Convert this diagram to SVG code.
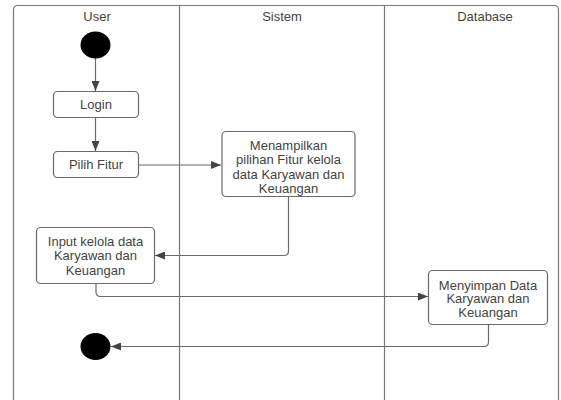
<svg xmlns="http://www.w3.org/2000/svg" width="561" height="400" viewBox="0 0 561 400">
<style>
.t{font-family:"Liberation Sans",Arial,sans-serif;font-size:13px;fill:#444;text-anchor:middle}
.box{fill:#fff;stroke:#6a6a6a;stroke-width:1.2}
.ln{fill:none;stroke:#6a6a6a;stroke-width:1.2}
.lane{fill:none;stroke:#777;stroke-width:1.2}
</style>
<defs>
<marker id="ah" viewBox="0 0 10 8" refX="10" refY="4" markerWidth="10" markerHeight="8" markerUnits="userSpaceOnUse" orient="auto">
<path d="M0,0 L10,4 L0,8 Z" fill="#444"/>
</marker>
</defs>
<rect width="561" height="400" fill="#fff"/>
<g id="lanes">
<rect class="lane" x="13.5" y="5.5" width="545" height="420" rx="4"/>
<line class="lane" x1="179.5" y1="5.5" x2="179.5" y2="400"/>
<line class="lane" x1="384.5" y1="5.5" x2="384.5" y2="400"/>
<text class="t" x="97" y="21">User</text>
<text class="t" x="282" y="21">Sistem</text>
<text class="t" x="485" y="21">Database</text>
</g>
<g id="connectors">
<path class="ln" d="M95.5,58 V91" marker-end="url(#ah)"/>
<path class="ln" d="M95.5,118 V151" marker-end="url(#ah)"/>
<path class="ln" d="M138,165 H221" marker-end="url(#ah)"/>
<path class="ln" d="M288.5,197 V251 Q288.5,255.5 284,255.5 H155" marker-end="url(#ah)"/>
<path class="ln" d="M96,284 V292 Q96,296.5 100.5,296.5 H428" marker-end="url(#ah)"/>
<path class="ln" d="M488.5,325 V342 Q488.5,346.5 484,346.5 H111" marker-end="url(#ah)"/>
</g>
<g id="start"><ellipse cx="95.5" cy="45" rx="15" ry="13.5" fill="#000"/></g>
<g id="login">
<rect class="box" x="53.5" y="91.5" width="85" height="26" rx="4"/>
<text class="t" x="96" y="109">Login</text>
</g>
<g id="pilih">
<rect class="box" x="53.5" y="151.5" width="85" height="26" rx="4"/>
<text class="t" x="96" y="169">Pilih Fitur</text>
</g>
<g id="menampilkan">
<rect class="box" x="222" y="131.5" width="133" height="65" rx="4"/>
<text class="t" x="288.5" y="149.5">Menampilkan</text>
<text class="t" x="288.5" y="164">pilihan Fitur kelola</text>
<text class="t" x="288.5" y="178.5">data Karyawan dan</text>
<text class="t" x="288.5" y="193">Keuangan</text>
</g>
<g id="input">
<rect class="box" x="36.5" y="227.5" width="118" height="56" rx="4"/>
<text class="t" x="95.5" y="246">Input kelola data</text>
<text class="t" x="95.5" y="260">Karyawan dan</text>
<text class="t" x="95.5" y="274.5">Keuangan</text>
</g>
<g id="menyimpan">
<rect class="box" x="428.5" y="270.5" width="119" height="54" rx="4"/>
<text class="t" x="488" y="289.5">Menyimpan Data</text>
<text class="t" x="488" y="303">Karyawan dan</text>
<text class="t" x="488" y="317">Keuangan</text>
</g>
<g id="end"><ellipse cx="95.5" cy="346.5" rx="15" ry="13.5" fill="#000"/></g>
</svg>
